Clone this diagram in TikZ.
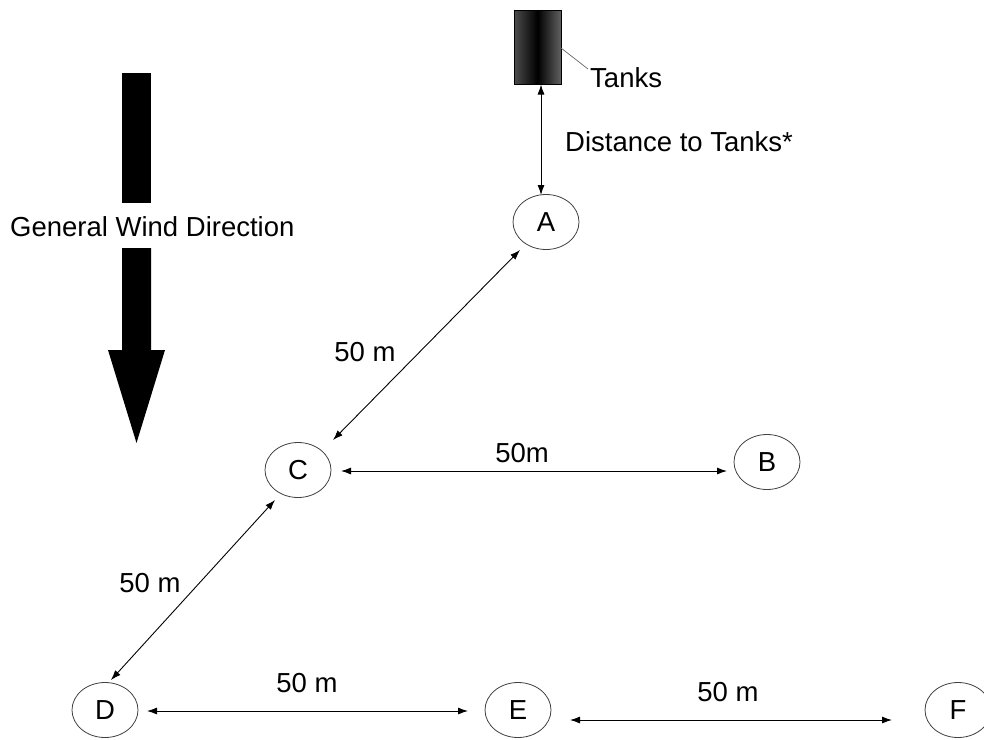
\documentclass[tikz,border=0pt]{standalone}
\usepackage{fontspec}
\setmainfont{Liberation Sans}
\usetikzlibrary{arrows.meta,calc,shapes.geometric}
\begin{document}
\begin{tikzpicture}[x=1pt,y=-1pt,
  every node/.style={font=\fontsize{27.5}{32}\selectfont},
  site/.style={ellipse,draw=black!75,line width=0.8pt,minimum width=66pt,minimum height=55pt,inner sep=0pt},
  lbl/.style={inner sep=0pt},
  dim/.style={line width=0.9pt,{Latex[length=10pt,width=7pt]}-{Latex[length=10pt,width=7pt]}}]
\useasboundingbox (0,0) rectangle (984,739);
% tanks
\shade[left color=black!70,right color=black!62,middle color=black] (514,10) rectangle (561,84);
\draw[line width=0.6pt] (514,10) rectangle (561,84);
\coordinate (T) at (537.5,47);
\coordinate (Tsouth) at (541,84.5);
\coordinate (Teast) at (561,48);
\node[lbl,anchor=west] (tl) at (590,78) {Tanks};
\draw[black!60,line width=0.7pt] (Teast) -- ($(tl.west)+(-2,-9)$);
% wind arrow
\fill (122,73) rectangle (151,203);
\fill (122,248) -- (151,248) -- (151,350) -- (165,350) -- (136.5,443) -- (108,350) -- (122,350) -- cycle;
\node[lbl,anchor=west] (wind) at (10,227) {General Wind Direction};
% sites
\node[site] (A) at (546,222) {A};
\node[site] (B) at (767,462) {B};
\node[site] (C) at (298,470) {C};
\node[site] (D) at (105,710) {D};
\node[site] (E) at (518,710) {E};
\node[site] (F) at (958,710) {F};
% connectors
\draw[dim] (Tsouth) -- ($(A)+(-5,-27)$);
\node[lbl,anchor=west] (dist) at (565,142) {Distance to Tanks*};
\draw[dim] ($(A)+(-26,28)$) -- ($(C)+(35,-30)$);
\node[lbl] (l1) at (365,352) {50 m};
\draw[dim] ($(C)+(43,1)$) -- ($(B)+(-40,9)$);
\node[lbl] (l2) at (522,453) {50m};
\draw[dim] ($(C)+(-23,30)$) -- ($(D)+(6,-30)$);
\node[lbl] (l3) at (150,583) {50 m};
\draw[dim] ($(D)+(42,1)$) -- ($(E)+(-50,1)$);
\node[lbl] (l4) at (307,683) {50 m};
\draw[dim] ($(E)+(52,10)$) -- ($(F)+(-66,10)$);
\node[lbl] (l5) at (728,692) {50 m};
\end{tikzpicture}
\end{document}
